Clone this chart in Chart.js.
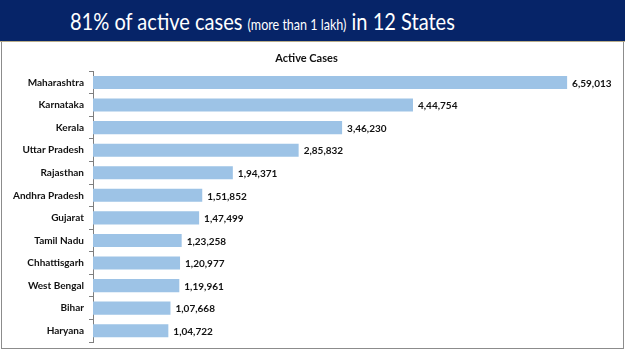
<!DOCTYPE html>
<html><head><meta charset="utf-8">
<script src="https://cdn.jsdelivr.net/npm/chart.js@4.4.0/dist/chart.umd.min.js"></script>
<style>
html,body{margin:0;padding:0;background:#fff;width:625px;height:351px;overflow:hidden;}
#hdr{position:absolute;left:0;top:0;width:625px;height:41px;background:#062468;border-bottom:1px solid #b9ad8a;}
#ttl{position:absolute;left:70px;top:0;line-height:42px;color:#fff;font-family:Lato,"Open Sans",sans-serif;font-size:24px;white-space:nowrap;transform:scaleX(0.835);transform-origin:0 50%;}
#ttl small{font-size:15px;}
#panel{position:absolute;left:1px;top:42px;width:621px;height:306px;border:1px solid #8c8c8c;border-top:none;background:#fff;}
canvas{position:absolute;left:0;top:0;}
</style></head>
<body>
<div id="hdr"><div id="ttl">81% of active cases <small>(more than 1 lakh)</small> in 12 States</div></div>
<div id="panel"><canvas id="c" width="621" height="306"></canvas></div>
<script>
const states = ["Maharashtra","Karnataka","Kerala","Uttar Pradesh","Rajasthan","Andhra Pradesh","Gujarat","Tamil Nadu","Chhattisgarh","West Bengal","Bihar","Haryana"];
const activeCases = [659013,444754,346230,285832,194371,151852,147499,123258,120977,119961,107668,104722];
const chartTitle = "Active Cases";

function fmtIN(n){
  const s = String(Math.round(n));
  if (s.length <= 3) return s;
  const last3 = s.slice(-3);
  let rest = s.slice(0,-3);
  const parts = [];
  while (rest.length > 2){ parts.unshift(rest.slice(-2)); rest = rest.slice(0,-2); }
  if (rest) parts.unshift(rest);
  return parts.join(",") + "," + last3;
}

const valueLabels = {
  id:'valueLabels',
  afterDatasetsDraw(chart){
    const ctx = chart.ctx;
    const meta = chart.getDatasetMeta(0);
    ctx.save();
    ctx.font = "bold 10px Lato, 'Open Sans', sans-serif";
    ctx.fillStyle = "#111";
    ctx.textAlign = "left";
    ctx.textBaseline = "middle";
    meta.data.forEach((bar,i)=>{
      ctx.fillText(fmtIN(chart.data.datasets[0].data[i]), bar.x + 5, bar.y + 1);
    });
    ctx.restore();
  }
};

new Chart(document.getElementById('c'), {
  type:'bar',
  data:{labels:states, datasets:[{data:activeCases, backgroundColor:'#9dc3e6', borderWidth:0, barPercentage:0.58, categoryPercentage:1}]},
  options:{
    indexAxis:'y', responsive:false, maintainAspectRatio:false, animation:false, devicePixelRatio:1,
    layout:{padding:{left:0,right:12,top:0,bottom:6}},
    plugins:{
      legend:{display:false}, tooltip:{enabled:false},
      title:{display:true, text:chartTitle, color:'#111', font:{family:"Lato, 'Open Sans', sans-serif", size:11, weight:'bold'}, padding:{top:10,bottom:6}}
    },
    scales:{
      x:{display:false, min:0, max:720000},
      y:{
        afterFit(s){ s.width = 91; s.paddingTop = 0; s.paddingBottom = 0; },
        border:{display:true, color:'#7f7f7f', width:1},
        grid:{display:true, drawOnChartArea:false, drawTicks:true, tickLength:4, color:'#7f7f7f', offset:true},
        ticks:{color:'#111', padding:5, font:{family:"Lato, 'Open Sans', sans-serif", size:10, weight:'bold'}}
      }
    }
  },
  plugins:[valueLabels]
});
</script>
</body></html>
